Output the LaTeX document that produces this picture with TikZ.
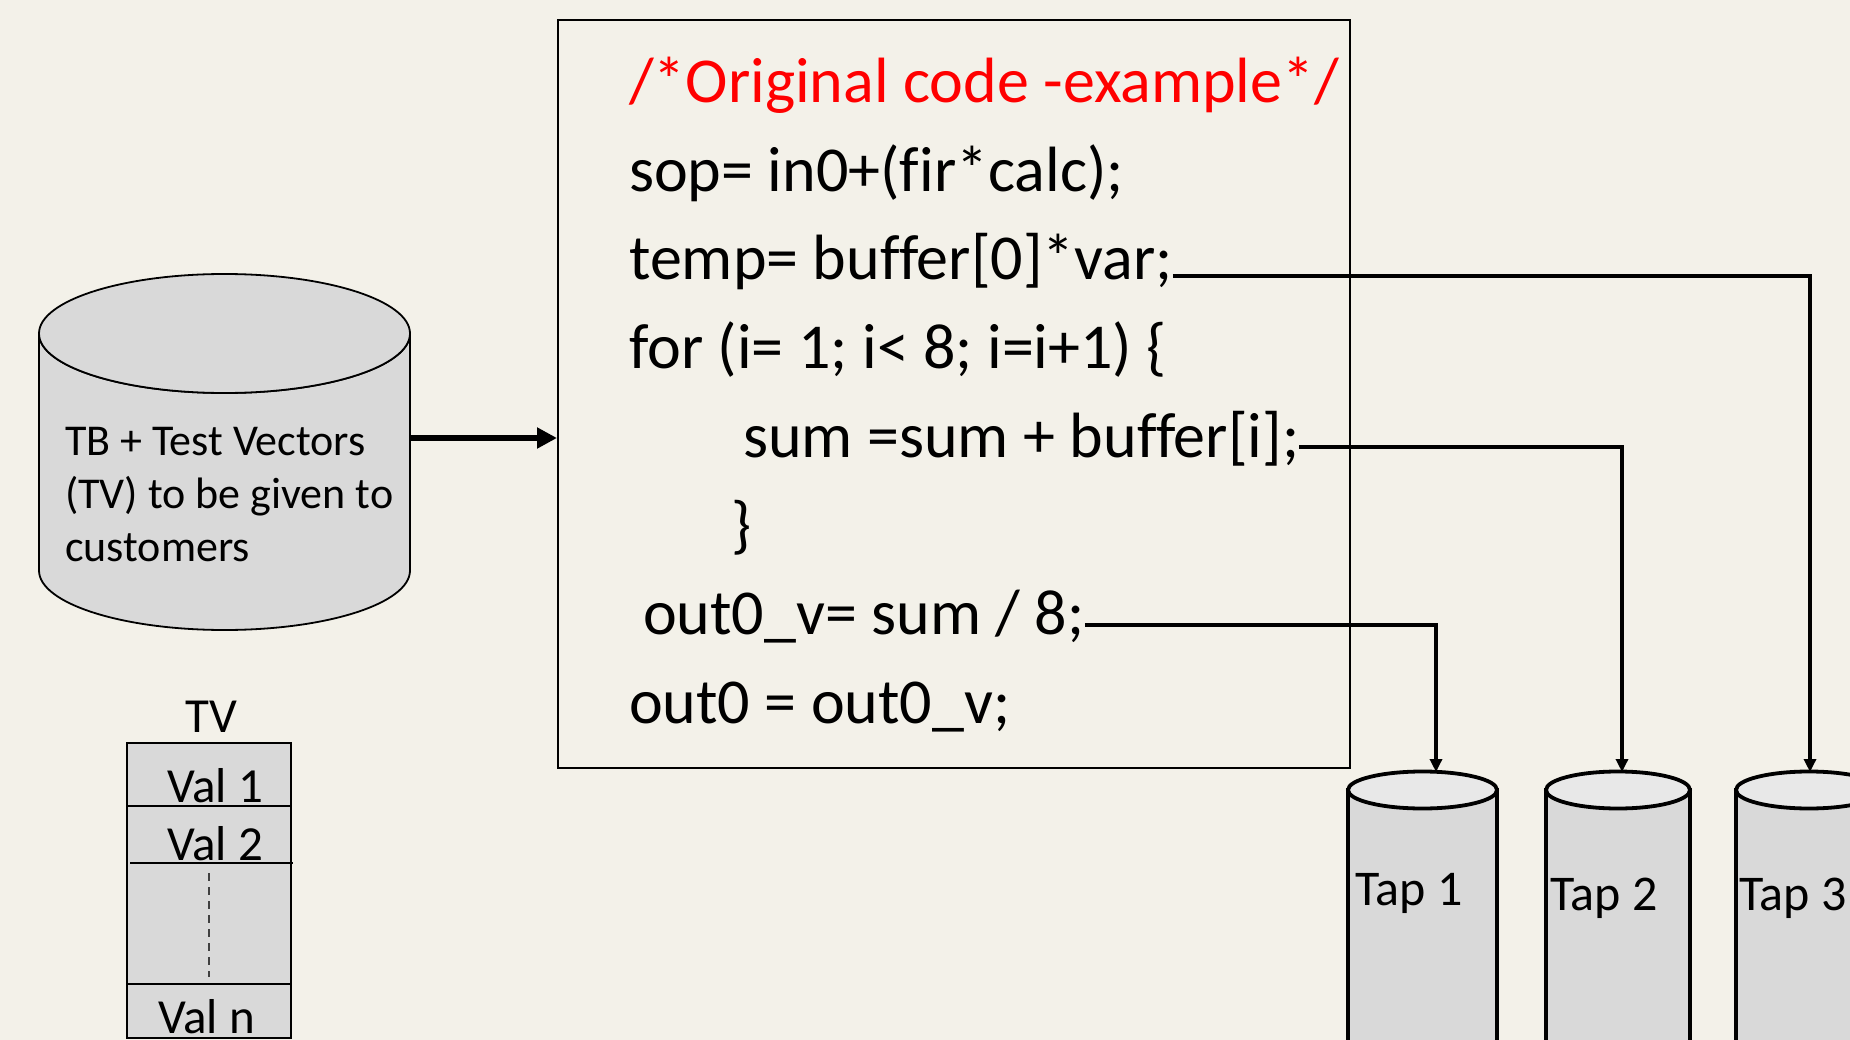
\documentclass[tikz,border=0pt]{standalone}
\usepackage{fontspec}
\setmainfont{Carlito}[Ligatures=CommonOff]
\usetikzlibrary{arrows.meta,calc}
\definecolor{bg}{HTML}{F3F1E9}
\definecolor{cylfill}{HTML}{D9D9D9}
\definecolor{cyltop}{HTML}{E8E8E8}
\definecolor{codered}{HTML}{FF0000}
\begin{document}
\begin{tikzpicture}[x=1pt,y=-1pt,
  codetxt/.style={anchor=base west,inner sep=0pt,font=\fontsize{64}{77}\selectfont},
  cyltxt/.style={anchor=base west,inner sep=0pt,font=\fontsize{44}{53}\selectfont},
  tvtxt/.style={anchor=base west,inner sep=0pt,font=\fontsize{49}{58}\selectfont},
  taptxt/.style={anchor=base west,inner sep=0pt,font=\fontsize{50}{60}\selectfont},
  tapline/.style={line width=3.8pt,-{Triangle[length=13pt,width=12pt]}},
  tapbody/.style={draw,line width=3.8pt,fill=cylfill},
  tvline/.style={line width=2.5pt}]
\fill[bg] (0,0) rectangle (1850,1040);
\useasboundingbox (0,0) rectangle (1850,1040);

% ---- code box ----
\node[draw,line width=1.8pt,minimum width=792pt,minimum height=748pt,anchor=north west,inner sep=0pt] (code) at (557,19) {};
\node[codetxt,text=codered] (l1) at (629,103) {/*Original code -example*/};
\node[codetxt] (l2) at (629,192) {sop= in0+(fir*calc);};
\node[codetxt] (l3) at (629,280) {temp= buffer[0]*var;};
\node[codetxt] (l4) at (629,369) {for (i= 1; i< 8; i=i+1) \{};
\node[codetxt] (l5) at (743,457) {sum =sum + buffer[i];};
\node[codetxt] (l6) at (731,546) {\}};
\node[codetxt] (l7) at (643,634) {out0\_v= sum / 8;};
\node[codetxt] (l8) at (629,723) {out0 = out0\_v;};

% ---- TB cylinder ----
\filldraw[fill=cylfill,line width=1.8pt] (39,333.5) -- (39,570.5)
  arc[start angle=180,end angle=360,x radius=185.5pt,y radius=59.5pt]
  -- (410,333.5)
  arc[start angle=0,end angle=-180,x radius=185.5pt,y radius=59.5pt] -- cycle;
\filldraw[fill=cylfill,line width=1.8pt] (224.5,333.5) ellipse [x radius=185.5pt,y radius=59.5pt];
\node[cyltxt] (tb1) at (65,455) {TB + Test Vectors};
\node[cyltxt] (tb2) at (65,508) {(TV) to be given to};
\node[cyltxt] (tb3) at (65,561) {customers};
\coordinate (tbR) at (410,438);
\draw[line width=5.5pt,-{Triangle[length=20pt,width=20pt]}] (tbR) -- (tbR -| code.west);

% ---- TV table ----
\filldraw[fill=cylfill,tvline] (127,743) rectangle (291,1038);
\draw[tvline] (127,806) -- (291,806);
\draw[tvline] (130,863) -- (293,863);
\draw[tvline] (127,984) -- (291,984);
\draw[line width=1.6pt,dash pattern=on 8pt off 6pt,black!75] (209,873) -- (209,977);
\node[anchor=base,inner sep=0pt,font=\fontsize{49}{58}\selectfont] (tv) at (211,732) {TV};
\node[tvtxt] (v1) at (167,802) {Val 1};
\node[tvtxt] (v2) at (167,860) {Val 2};
\node[tvtxt] (vn) at (158,1033) {Val n};

% ---- Tap cylinders ----
\filldraw[tapbody] (1348,790) -- (1348,1080) -- (1497,1080) -- (1497,790) -- cycle;
\filldraw[tapbody,fill=cyltop] (1422.5,790) ellipse [x radius=74.5pt,y radius=18.5pt];
\filldraw[tapbody] (1546,790) -- (1546,1080) -- (1690,1080) -- (1690,790) -- cycle;
\filldraw[tapbody,fill=cyltop] (1618,790) ellipse [x radius=72pt,y radius=18.5pt];
\filldraw[tapbody] (1736,790) -- (1736,1080) -- (1882,1080) -- (1882,790) -- cycle;
\filldraw[tapbody,fill=cyltop] (1809,790) ellipse [x radius=73pt,y radius=18.5pt];
\node[taptxt] (t1) at (1355,905) {Tap 1};
\node[taptxt] (t2) at (1550,910) {Tap 2};
\node[taptxt] (t3) at (1739,910) {Tap 3};
\coordinate (tap1top) at (1436,772);
\coordinate (tap2top) at (1622,772);
\coordinate (tap3top) at (1810,772);

% ---- connectors ----
\draw[tapline] ([yshift=4pt]l3.base east) -| (tap3top);
\draw[tapline] ([yshift=10pt]l5.base east) -| (tap2top);
\draw[tapline] ([yshift=9pt]l7.base east) -| (tap1top);
\end{tikzpicture}
\end{document}
